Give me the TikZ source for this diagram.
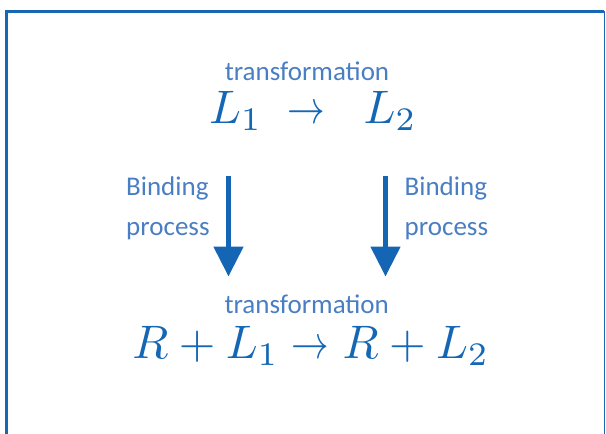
\documentclass[tikz,border=0pt]{standalone}
\usepackage{fontspec}
\usetikzlibrary{arrows.meta}
\newfontfamily\calib{Carlito}
\definecolor{framecol}{HTML}{1767B5}
\definecolor{labcol}{HTML}{4A7EC3}
\definecolor{mathcol}{HTML}{1467B4}
\definecolor{arrcol}{HTML}{1565B5}
\newcommand{\mybigmath}[1]{\scalebox{4.7}{$#1$}}
\tikzset{
  lab/.style={inner sep=0pt, text=labcol, font=\calib\fontsize{27}{32}\selectfont},
  eq/.style={inner sep=0pt, text=mathcol},
  bigarrow/.style={draw=arrcol, line width=5pt, -{Triangle[width=29pt,length=30pt]}, fill=arrcol},
}
\begin{document}
\begin{tikzpicture}[x=1pt,y=-1pt]
\useasboundingbox (0,0) rectangle (606,434);
% frame
\draw[framecol, line width=3pt] (6.5,440) -- (6.5,11) -- (604,11);
\draw[framecol, line width=1.5pt] (604.3,11) -- (604.3,440);
% top
\node[lab, anchor=base] (t1) at (307,80.5) {transformation};
\node[eq, anchor=base west] (l1) at (209,123.8) {\mybigmath{L_1}};
\node[eq, anchor=base] (ar1) at (306.5,123.8) {\mybigmath{\scalebox{0.8}[1]{$\to$}}};
\node[eq, anchor=base west] (l2) at (363.5,123.8) {\mybigmath{L_2}};
% binding labels
\node[lab, anchor=base west] (b1) at (126,195) {Binding};
\node[lab, anchor=base west] (p1) at (126,235) {process};
\node[lab, anchor=base west] (b2) at (404.5,195) {Binding};
\node[lab, anchor=base west] (p2) at (404.5,235) {process};
% arrows
\coordinate (a1s) at (228.5,176);
\coordinate (a1e) at (228.5,276.5);
\coordinate (a2s) at (385.5,176);
\coordinate (a2e) at (385.5,276.5);
\draw[bigarrow] (a1s) -- (a1e);
\draw[bigarrow] (a2s) -- (a2e);
% bottom
\node[lab, anchor=base] (t2) at (306.7,313) {transformation};
\node[eq, anchor=base] (eq2) at (310.7,358.5) {\mybigmath{R+L_1 \mathrel{\scalebox{0.8}[1]{$\to$}} R+L_2}};
\end{tikzpicture}
\end{document}
